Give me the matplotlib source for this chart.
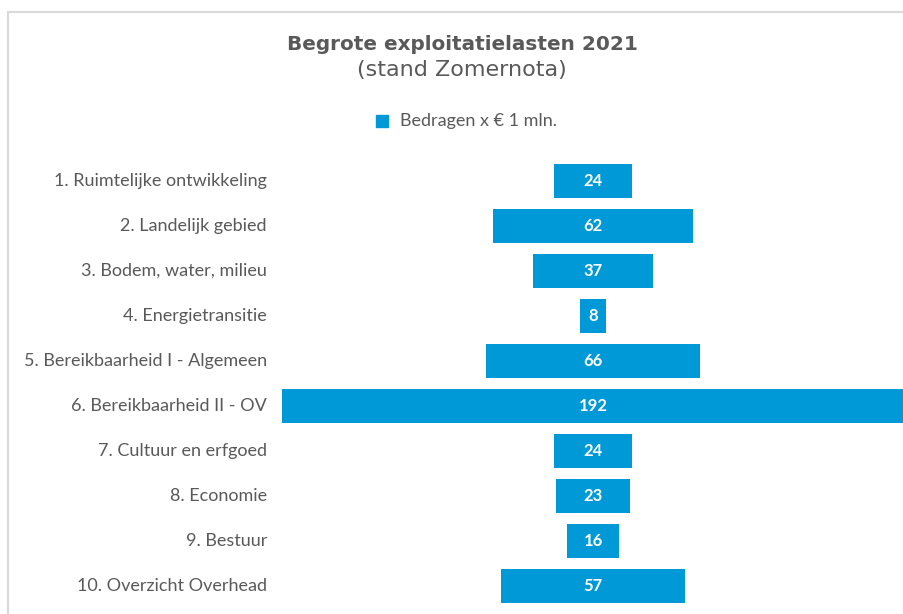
import matplotlib.pyplot as plt
import matplotlib.transforms as mtransforms
from matplotlib.lines import Line2D
from matplotlib.patches import Rectangle

# Dati
categorieen = [
    '1. Ruimtelijke ontwikkeling',
    '2. Landelijk gebied',
    '3. Bodem, water, milieu',
    '4. Energietransitie',
    '5. Bereikbaarheid I - Algemeen',
    '6. Bereikbaarheid II - OV',
    '7. Cultuur en erfgoed',
    '8. Economie',
    '9. Bestuur',
    '10. Overzicht Overhead',
]
bedragen = [24, 62, 37, 8, 66, 192, 24, 23, 16, 57]

titel = 'Begrote exploitatielasten 2021'
subtitel = '(stand Zomernota)'
legenda = 'Bedragen x € 1 mln.'

blauw = '#0099d8'
grijs = '#595959'

W, H = 904, 614
fig = plt.figure(figsize=(W / 100, H / 100), dpi=100)

# Assen: gecentreerde balken (trechter)
ax = fig.add_axes([282 / W, 1 - 608.5 / H, 622 / W, 450 / H])
pos = list(range(len(bedragen)))
ax.barh(pos, bedragen, left=[-v / 2 for v in bedragen], height=0.74, color=blauw)
ax.set_xlim(-96, 96)
ax.set_ylim(len(bedragen) - 0.5, -0.5)
ax.axis('off')

for i, v in enumerate(bedragen):
    ax.text(0, i, str(v), ha='center', va='center', color='white',
            fontsize=12, fontweight='bold', family='Lato')

# Categorielabels links, rechts uitgelijnd
trans = mtransforms.blended_transform_factory(fig.transFigure, ax.transData)
for i, c in enumerate(categorieen):
    ax.text(267 / W, i, c, transform=trans, ha='right', va='center',
            fontsize=13, color=grijs, family='Lato')

# Titel
fig.text(462 / W, 1 - 44 / H, titel, ha='center', va='center', fontsize=14.4,
         fontweight='bold', color=grijs, family='DejaVu Sans')
fig.text(462 / W, 1 - 70 / H, subtitel, ha='center', va='center', fontsize=16,
         color=grijs, family='DejaVu Sans')

# Legenda
fig.patches.append(Rectangle((376 / W, 1 - 127 / H), 12 / W, 12 / H,
                             transform=fig.transFigure, color=blauw))
fig.text(400 / W, 1 - 121 / H, legenda, ha='left', va='center', fontsize=13,
         color=grijs, family='Lato')

# Kader
fig.add_artist(Line2D([8 / W, 1], [1 - 12 / H, 1 - 12 / H], color='#d9d9d9', lw=1.5))
fig.add_artist(Line2D([8 / W, 8 / W], [0, 1 - 12 / H], color='#d9d9d9', lw=1.5))

fig.savefig('out.png', dpi=100)
